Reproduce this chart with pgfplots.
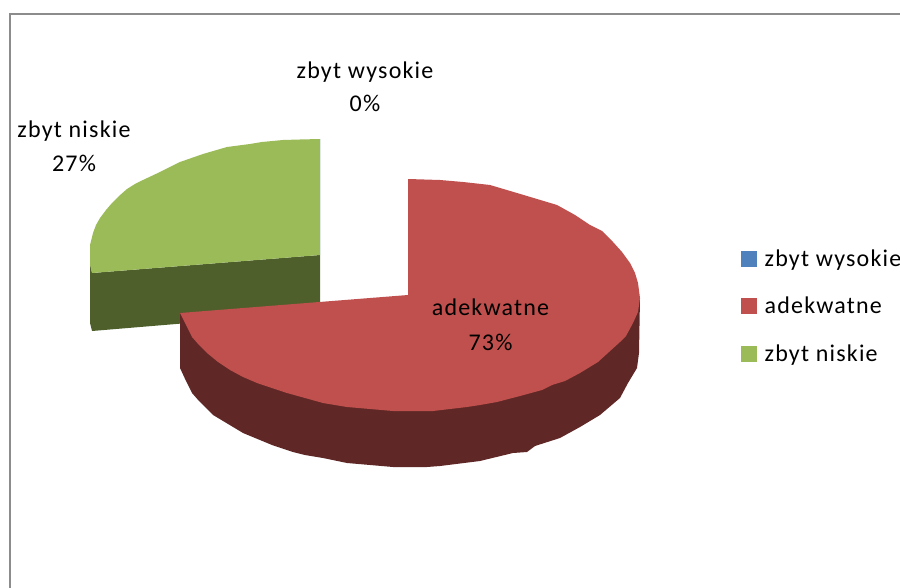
\documentclass[border=0pt]{standalone}
\usepackage{fontspec}
\setmainfont[LetterSpace=5]{Carlito}
\usepackage{pgfplots}
\pgfplotsset{compat=1.18}
\definecolor{zblue}{HTML}{4F81BD}
\definecolor{zred}{HTML}{C0504D}
\definecolor{zreddark}{HTML}{5F2826}
\definecolor{zgreen}{HTML}{9BBB59}
\definecolor{zgreendark}{HTML}{4F5F2C}
\newcommand{\lab}{\fontsize{24}{28}\selectfont}

\begin{document}
\begin{tikzpicture}
	\begin{axis}[
		scale only axis,
		width=900pt,
		height=588pt,
		xmin=0,
		xmax=900,
		ymin=0,
		ymax=588,
		y dir=reverse,
		hide axis,
		clip=false,
		legend cell align=left,
		legend style={
			draw=none,
			fill=none,
			at={(axis cs:741,250)},
			anchor=north west,
			inner xsep=0pt,
			inner ysep=0pt,
			row sep=25.5pt,
			font=\lab,
			nodes={inner sep=0pt, text height=16pt, text depth=6pt},
			/tikz/every odd column/.append style={column sep=8pt},
		},
		legend image code/.code={
			\fill[#1] (0pt,-4.5pt) rectangle (15pt,10.5pt);
		},
		]
		\addlegendimage{zblue}
		\addlegendimage{zred}
		\addlegendimage{zgreen}

		% chart frame
		\addplot[color=black!45, line width=2pt, forget plot] coordinates {(9.5,588) (9.5,14.5) (900,14.5)};

		% zbyt wysokie, 0%: no visible slice
		\addplot[fill=zblue, draw=none, forget plot] coordinates {(320,255) (320,139) (320,255)};

		% zbyt niskie, cut face then top
		\addplot[fill=zgreendark, draw=none, forget plot] coordinates {
			(92,273) (320,255) (320,312) (92,331) (90,323) (90,263)} -- cycle;
		\addplot[fill=zgreen, draw=none, forget plot] coordinates {
			(320,255) (320,139) (300,139.5) (283,140) (262,142) (250,144) (227,147)
			(203,154) (180,162) (160,172) (143,180) (135,184) (127,189) (119,196) (112,203)
			(106,210) (100,218) (96,225) (93,233) (90,245) (90,265) (92,273)} -- cycle;

		% adekwatne, wall then top
		\addplot[fill=zreddark, draw=none, forget plot] coordinates {
			(180,313) (180,368) (186,381) (192,393) (199,401) (213,415) (218,418) (243,433)
			(272,445) (293,452) (305,455) (323,458) (347,463) (370,465) (393,467) (427,467)
			(440,466) (480,461) (513,453) (527,452) (535,446) (560,438) (580,427) (600,415)
			(620,398) (628,383) (637,368) (639,353) (640,298)} -- cycle;
		\addplot[fill=zred, draw=none, forget plot] coordinates {
			(408,295) (408,179) (440,180) (463,182) (490,185) (517,193) (537,199) (557,205)
			(575,215) (590,225) (602,231) (613,242) (622,252) (630,263) (635,273) (638,283)
			(640,298) (638,312) (633,323) (626,336) (620,342) (598,362) (580,373) (565,381)
			(552,385) (542,390) (520,396) (497,402) (480,405) (467,407) (433,411) (393,411)
			(370,409) (347,407) (323,403) (305,398) (287,393) (272,388) (257,383) (243,377)
			(230,370) (218,362) (207,353) (199,345) (192,337) (186,325) (180,313)} -- cycle;

		\node[anchor=base, font=\lab] at (axis cs:365,79) {zbyt wysokie};
		\node[anchor=base, font=\lab] at (axis cs:365,112) {0\%};
		\node[anchor=base, font=\lab] at (axis cs:74,138) {zbyt niskie};
		\node[anchor=base, font=\lab] at (axis cs:74,172) {27\%};
		\node[anchor=base, font=\lab] at (axis cs:490.5,316) {adekwatne};
		\node[anchor=base, font=\lab] at (axis cs:490.5,350) {73\%};

		\legend{zbyt wysokie, adekwatne, zbyt niskie}
	\end{axis}
	\pgfresetboundingbox
	\useasboundingbox (0,0) rectangle (900pt,588pt);
\end{tikzpicture}
\end{document}
